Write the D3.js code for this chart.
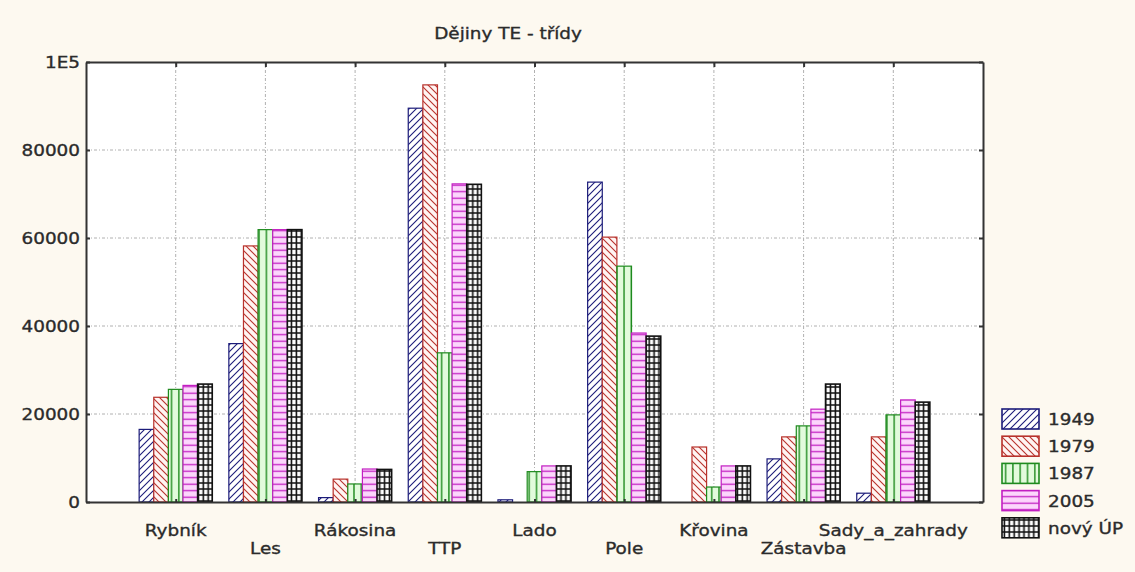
<!DOCTYPE html>
<html>
<head>
<meta charset="utf-8">
<script src="https://cdn.jsdelivr.net/npm/d3@7"></script>
<style>
  body { margin: 0; background: #fdf9f0; }
  text { font-family: "DejaVu Sans", Verdana, sans-serif; fill: #2b2b2b; stroke: #2b2b2b; stroke-width: 0.35; }
</style>
</head>
<body>
<div id="chart"></div>
<script>
// data
var categories = ["Rybník", "Les", "Rákosina", "TTP", "Lado", "Pole", "Křovina", "Zástavba", "Sady_a_zahrady"];
var seriesNames = ["1949", "1979", "1987", "2005", "nový ÚP"];
var v1949 = [16500, 36000, 1000, 89500, 500, 72700, 0, 9800, 2000];
var v1979 = [23800, 58200, 5200, 94800, 0, 60200, 12500, 14800, 14800];
var v1987 = [25600, 61900, 4100, 33900, 6900, 53600, 3400, 17300, 19800];
var v2005 = [26500, 61900, 7500, 72300, 8200, 38400, 8200, 21100, 23200];
var vNovy = [26800, 61900, 7400, 72200, 8200, 37700, 8200, 26800, 22700];
var yTicks = [0, 20000, 40000, 60000, 80000, 100000];
var yTickLabels = ["0", "20000", "40000", "60000", "80000", "1E5"];
var title = "Dějiny TE - třídy";

var seriesValues = [v1949, v1979, v1987, v2005, vNovy];

var W = 1135, H = 572;
var margin = {left: 86, right: 152, top: 62, bottom: 70};
var stretch = 1.15;   // text in the picture is a bit wide

var svg = d3.select("#chart").append("svg")
  .attr("width", W).attr("height", H);

svg.append("rect").attr("width", W).attr("height", H).attr("fill", "#fdf9f0");

// hatch patterns, one per series
var defs = svg.append("defs");
var styles = [
  {id: "p0", stroke: "#1c1c7a", bg: "#ffffff"},
  {id: "p1", stroke: "#b8322c", bg: "#fff4f2"},
  {id: "p2", stroke: "#1e8a1e", bg: "#e2fbdc"},
  {id: "p3", stroke: "#c21fc2", bg: "#fcd6fc"},
  {id: "p4", stroke: "#111111", bg: "#ffffff"}
];

var p = defs.append("pattern").attr("id", "p0").attr("patternUnits", "userSpaceOnUse")
  .attr("width", 7).attr("height", 7);
p.append("rect").attr("width", 7).attr("height", 7).attr("fill", styles[0].bg);
p.append("path").attr("d", "M-1,8 L8,-1 M-1,1 L1,-1 M6,8 L8,6").attr("stroke", styles[0].stroke).attr("stroke-width", 1.1);

p = defs.append("pattern").attr("id", "p1").attr("patternUnits", "userSpaceOnUse")
  .attr("width", 7).attr("height", 7);
p.append("rect").attr("width", 7).attr("height", 7).attr("fill", styles[1].bg);
p.append("path").attr("d", "M-1,-1 L8,8 M-1,6 L1,8 M6,-1 L8,1").attr("stroke", styles[1].stroke).attr("stroke-width", 1.1);

p = defs.append("pattern").attr("id", "p2").attr("patternUnits", "userSpaceOnUse")
  .attr("width", 7.3).attr("height", 10);
p.append("rect").attr("width", 7.3).attr("height", 10).attr("fill", styles[2].bg);
p.append("path").attr("d", "M3.6,0 L3.6,10").attr("stroke", styles[2].stroke).attr("stroke-width", 1.4);

p = defs.append("pattern").attr("id", "p3").attr("patternUnits", "userSpaceOnUse")
  .attr("width", 10).attr("height", 6.5);
p.append("rect").attr("width", 10).attr("height", 6.5).attr("fill", styles[3].bg);
p.append("path").attr("d", "M0,3.2 L10,3.2").attr("stroke", styles[3].stroke).attr("stroke-width", 1.3);

p = defs.append("pattern").attr("id", "p4").attr("patternUnits", "userSpaceOnUse")
  .attr("width", 4.9).attr("height", 6);
p.append("rect").attr("width", 4.9).attr("height", 6).attr("fill", styles[4].bg);
p.append("path").attr("d", "M0,3 L4.9,3 M2.4,0 L2.4,6").attr("stroke", styles[4].stroke).attr("stroke-width", 1.6);

// scales
var x = d3.scaleLinear().domain([0, categories.length + 1]).range([margin.left, W - margin.right]);
var y = d3.scaleLinear().domain([0, 100000]).range([H - margin.bottom, margin.top]);
var groupW = (x(1) - x(0)) * 0.815;
var inner = d3.scaleBand().domain(seriesNames).range([-groupW / 2, groupW / 2]);

// plot area
svg.append("rect")
  .attr("x", x(0)).attr("y", y(100000))
  .attr("width", x(categories.length + 1) - x(0))
  .attr("height", y(0) - y(100000))
  .attr("fill", "#ffffff");

// grid
var grid = svg.append("g").attr("stroke", "#b0b0b0").attr("stroke-width", 1)
  .attr("stroke-dasharray", "3,2,1,2");
grid.selectAll(".gx").data(categories).enter().append("line")
  .attr("x1", (d, i) => x(i + 1)).attr("x2", (d, i) => x(i + 1))
  .attr("y1", y(100000)).attr("y2", y(0));
grid.selectAll(".gy").data(yTicks.slice(1, -1)).enter().append("line")
  .attr("x1", x(0)).attr("x2", x(categories.length + 1))
  .attr("y1", d => y(d)).attr("y2", d => y(d));

// bars
seriesNames.forEach(function(name, s) {
  svg.append("g").selectAll("rect")
    .data(seriesValues[s])
    .enter().append("rect")
    .attr("x", (d, i) => x(i + 1) + inner(name))
    .attr("y", d => y(d))
    .attr("width", inner.bandwidth())
    .attr("height", d => y(0) - y(d))
    .attr("fill", "url(#" + styles[s].id + ")")
    .attr("stroke", styles[s].stroke)
    .attr("stroke-width", s == 4 ? 1.6 : 1.2);
});

// axes (frame with inner ticks)
var axisColor = "#333";
var leftAxis = d3.axisLeft(y).tickValues(yTicks).tickSize(-4).tickFormat("");
var rightAxis = d3.axisRight(y).tickValues(yTicks).tickSize(-4).tickFormat("");
var topAxis = d3.axisTop(x).tickValues(d3.range(1, categories.length + 1)).tickSize(-5).tickFormat("");
var bottomAxis = d3.axisBottom(x).tickValues(d3.range(1, categories.length + 1)).tickSize(-3).tickFormat("");

[[leftAxis, `translate(${x(0)},0)`], [rightAxis, `translate(${x(categories.length + 1)},0)`],
 [topAxis, `translate(0,${y(100000)})`], [bottomAxis, `translate(0,${y(0)})`]].forEach(function(a) {
  var g = svg.append("g").attr("transform", a[1]).call(a[0].tickSizeOuter(0));
  g.select(".domain").attr("stroke", axisColor).attr("stroke-width", 2);
  g.selectAll(".tick line").attr("stroke", axisColor).attr("stroke-width", 2);
});

function addText(str, tx, ty, anchor) {
  return svg.append("text")
    .attr("transform", `translate(${tx},${ty}) scale(${stretch},1)`)
    .attr("text-anchor", anchor)
    .attr("font-size", 16)
    .text(str);
}

// y labels
yTicks.forEach((t, i) => addText(yTickLabels[i], x(0) - 6, y(t) + 6, "end"));

// x labels, staggered in two rows
categories.forEach((c, i) => addText(c, x(i + 1), i % 2 == 0 ? 536 : 554, "middle"));

// title
addText(title, 508, 39, "middle");

// legend
var leg = svg.append("g").attr("transform", "translate(1002,409)");
seriesNames.forEach(function(name, s) {
  leg.append("rect")
    .attr("x", 0).attr("y", s * 27.2)
    .attr("width", 37).attr("height", 20)
    .attr("fill", "url(#" + styles[s].id + ")")
    .attr("stroke", styles[s].stroke)
    .attr("stroke-width", 1.6);
  addText(name, 1048, 409 + s * 27.2 + 16, "start");
});
</script>
</body>
</html>
